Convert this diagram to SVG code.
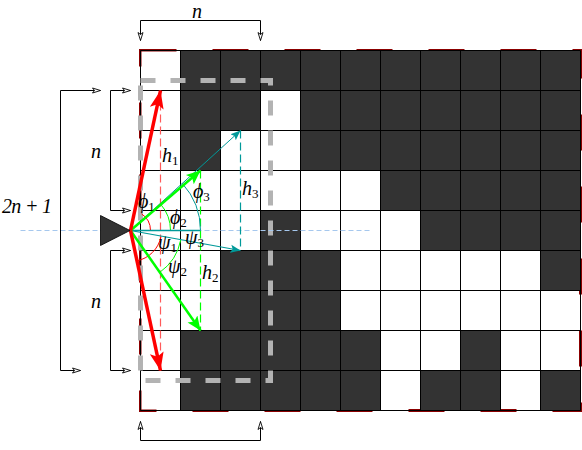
<svg xmlns="http://www.w3.org/2000/svg" width="582" height="450" viewBox="0 0 582 450">
<style>
.t{font-family:"Liberation Serif",serif;font-style:italic;font-size:20px;fill:#000}
.s{font-size:13px}
.r{font-style:normal}
.d{fill:#333}
.g{fill:none;stroke:#000;stroke-width:1}
.b{fill:none;stroke:#000;stroke-width:1}
.arc{fill:none;stroke-width:1}
</style>
<defs>
<marker id="o" markerUnits="userSpaceOnUse" markerWidth="10" markerHeight="8" refX="8.500" refY="3" orient="auto-start-reverse" viewBox="0 0 10 6">
<path d="M0.500 0.500L8.500 3L0.500 5.500L2.500 3Z" fill="#fff" stroke="#000" stroke-width="0.900"/>
</marker>
<marker id="mr" markerUnits="userSpaceOnUse" markerWidth="20" markerHeight="16" refX="18" refY="8" orient="auto" viewBox="0 0 20 16">
<path d="M0 1L18 8L0 15L4 8Z" fill="#f00"/>
</marker>
<marker id="mg" markerUnits="userSpaceOnUse" markerWidth="16" markerHeight="14" refX="14" refY="7" orient="auto" viewBox="0 0 16 14">
<path d="M0 1L14 7L0 13L3 7Z" fill="#0f0"/>
</marker>
<marker id="mt" markerUnits="userSpaceOnUse" markerWidth="12" markerHeight="10" refX="10" refY="5" orient="auto" viewBox="0 0 12 10">
<path d="M0 1L10 5L0 9L2 5Z" fill="#009999"/>
</marker>
</defs>
<rect width="582" height="450" fill="#fff"/>
<g transform="translate(.5 .5)">
<path d="M140 50H580V410H140Z" fill="none" stroke="#8b0000" stroke-width="3" stroke-dasharray="36 36"/>
<g id="cells">
<path class="d" d="M180 50h400v40h-400z"/>
<path class="d" d="M180 90h80v40h-80zM300 90h280v40h-280z"/>
<path class="d" d="M180 130h40v40h-40zM300 130h280v40h-280z"/>
<path class="d" d="M380 170h200v40h-200z"/>
<path class="d" d="M260 210h40v40h-40zM420 210h160v40h-160z"/>
<path class="d" d="M220 250h120v40h-120zM540 250h40v40h-40z"/>
<path class="d" d="M220 290h120v40h-120z"/>
<path class="d" d="M180 330h200v40h-200zM460 330h40v40h-40z"/>
<path class="d" d="M180 370h200v40h-200zM420 370h80v40h-80zM540 370h40v40h-40z"/>
<path d="M141 51h39v358h-39z" fill="#fff"/>
</g>
<path class="g" d="M140 50V410M180 50V410M220 50V410M260 50V410M300 50V410M340 50V410M380 50V410M420 50V410M460 50V410M500 50V410M540 50V410M580 50V410M140 50H580M140 90H580M140 130H580M140 170H580M140 210H580M140 250H580M140 290H580M140 330H580M140 370H580M140 410H580"/>
<path d="M140 80H270V380H140V80" fill="none" stroke="#b3b3b3" stroke-width="5" stroke-dasharray="15 15"/>
<path d="M20 230H370" fill="none" stroke="#a6c8ee" stroke-width="1" stroke-dasharray="5 3"/>
<g id="connectors">
<path class="b" marker-start="url(#o)" marker-end="url(#o)" d="M140 40V20H260V40"/>
<path class="b" marker-start="url(#o)" marker-end="url(#o)" d="M140 421V440H260V421"/>
<path class="b" marker-start="url(#o)" marker-end="url(#o)" d="M100 90H60V370H80"/>
<path class="b" marker-start="url(#o)" marker-end="url(#o)" d="M130 90H110V210H130"/>
<path class="b" marker-start="url(#o)" marker-end="url(#o)" d="M130 250H110V370H130"/>
<path d="M160 90V370" fill="none" stroke="#ff5a5a" stroke-width="1.200" stroke-dasharray="8 4"/>
<path d="M200 170V330" fill="none" stroke="#0f0" stroke-width="1.200" stroke-dasharray="8 4"/>
<path d="M240 130V250" fill="none" stroke="#009999" stroke-width="1.200" stroke-dasharray="8 4"/>
<path class="arc" stroke="#f00" d="M150 230A20 20 0 0 0 141 213.300"/>
<path class="arc" stroke="#0f0" d="M170 230A40 40 0 0 0 160.400 204"/>
<path class="arc" stroke="#009999" d="M200 230A70 70 0 0 0 181.800 182.900"/>
<path class="arc" stroke="#f00" d="M160.500 236A31 31 0 0 1 136 260.400"/>
<path class="arc" stroke="#0f0" d="M180.200 239.500A51 51 0 0 1 159.300 271.800"/>
<path d="M130 230H200" fill="none" stroke="#009999" stroke-width="1.500"/>
<path d="M130 230L240 130" fill="none" stroke="#009999" stroke-width="1" marker-end="url(#mt)"/>
<path d="M130 230L240 250" fill="none" stroke="#009999" stroke-width="1.200" marker-end="url(#mt)"/>
<path d="M130 230L200 170" fill="none" stroke="#0f0" stroke-width="2.500" marker-end="url(#mg)"/>
<path d="M130 230L200 330" fill="none" stroke="#0f0" stroke-width="2.500" marker-end="url(#mg)"/>
<path d="M130 230L160 90" fill="none" stroke="#f00" stroke-width="3.500" marker-end="url(#mr)"/>
<path d="M130 230L160 370" fill="none" stroke="#f00" stroke-width="3.500" marker-end="url(#mr)"/>
</g>
<g id="sensor"><path d="M100 215L129.500 230L100 245Z" fill="#333" stroke="#000" stroke-width="0.800"/></g>
</g>
<g id="labels">
<text class="t" x="192" y="18">n</text>
<text class="t" x="91" y="158">n</text>
<text class="t" x="91" y="308">n</text>
<text class="t" x="2" y="213" textLength="50">2n + 1</text>
<text class="t" x="162" y="162">h<tspan class="s r" dy="3">1</tspan></text>
<text class="t" x="242" y="195">h<tspan class="s r" dy="3">3</tspan></text>
<text class="t" x="202" y="279">h<tspan class="s r" dy="3">2</tspan></text>
<text class="t" x="138" y="208">ϕ<tspan class="s r" dy="3">1</tspan></text>
<text class="t" x="170" y="224">ϕ<tspan class="s r" dy="3">2</tspan></text>
<text class="t" x="193" y="198">ϕ<tspan class="s r" dy="3">3</tspan></text>
<text class="t" x="158" y="249">ψ<tspan class="s r" dy="3">1</tspan></text>
<text class="t" x="168" y="273">ψ<tspan class="s r" dy="3">2</tspan></text>
<text class="t" x="185" y="244">ψ<tspan class="s r" dy="3">3</tspan></text>
</g>
</svg>
